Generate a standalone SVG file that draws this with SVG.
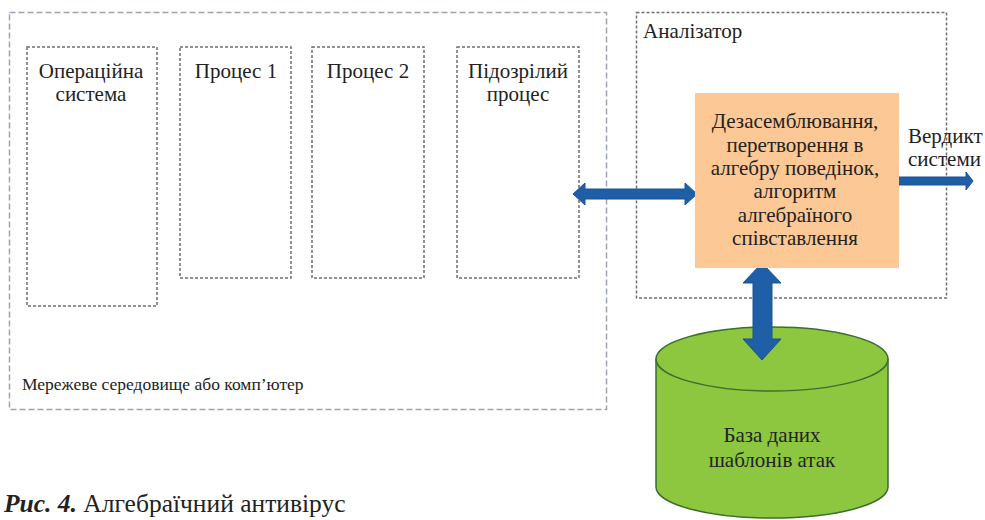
<svg xmlns="http://www.w3.org/2000/svg" width="985" height="520" viewBox="0 0 985 520">
<style>
  text { font-family: "Times New Roman", "Liberation Serif", Tinos, "DejaVu Serif", serif; fill: #222; }
  .t { font-size: 21px; }
  .c { text-anchor: middle; }
  .outer { fill: none; stroke: #9aa2b3; stroke-width: 1.5; stroke-dasharray: 6 3; }
  .dot { fill: none; stroke: #6f6f6f; stroke-width: 1.5; stroke-dasharray: 3 2; }
  .arrow { fill: #1f5fa8; stroke: #1a5296; stroke-width: 1; }
</style>
<rect width="985" height="520" fill="#ffffff"/>
<g id="network">
  <rect class="outer" x="9.5" y="12.5" width="597" height="397"/>
  <text x="22" y="390" style="font-size:17.5px">Мережеве середовище або комп’ютер</text>
</g>
<g id="os">
  <rect class="dot" x="27" y="47" width="130" height="259"/>
  <text class="t c" x="91" y="78">Операційна</text>
  <text class="t c" x="91" y="101">система</text>
</g>
<g id="process1">
  <rect class="dot" x="180" y="47" width="111" height="231"/>
  <text class="t c" x="236" y="78">Процес 1</text>
</g>
<g id="process2">
  <rect class="dot" x="312" y="47" width="112" height="231"/>
  <text class="t c" x="368" y="78">Процес 2</text>
</g>
<g id="suspicious">
  <rect class="dot" x="457" y="47" width="122" height="231"/>
  <text class="t c" x="518" y="78">Підозрілий</text>
  <text class="t c" x="518" y="101">процес</text>
</g>
<g id="analyzer">
  <rect class="dot" x="636.5" y="12.5" width="310" height="285.5"/>
  <text class="t" x="643" y="38">Аналізатор</text>
</g>
<g id="database">
  <path d="M656,359 L656,487 A116,31 0 0 0 888,487 L888,359" fill="#8dc63f" stroke="#3c6e2e" stroke-width="1.5"/>
  <ellipse cx="772" cy="359" rx="116" ry="32" fill="#8dc63f" stroke="#3c6e2e" stroke-width="1.5"/>
  <text class="t c" x="772" y="442">База даних</text>
  <text class="t c" x="772" y="467">шаблонів атак</text>
</g>
<g id="connectors">
  <polygon class="arrow" points="573,194 585,183 585,189 685,189 685,183 697,194 685,205 685,199 585,199 585,205"/>
  <polygon class="arrow" points="762,263 781,283 772,283 772,339 781,339 762,360 743,339 753,339 753,283 743,283"/>
  <polygon class="arrow" points="887,177 966,177 966,172 973,181 966,190 966,185 887,185"/>
</g>
<g id="disassembly">
  <rect x="695" y="93" width="204" height="175" fill="#fbc896"/>
  <text class="t c" x="795" y="128">Дезасемблювання,</text>
  <text class="t c" x="795" y="152">перетворення в</text>
  <text class="t c" x="795" y="175">алгебру поведінок,</text>
  <text class="t c" x="795" y="198">алгоритм</text>
  <text class="t c" x="795" y="222">алгебраїного</text>
  <text class="t c" x="795" y="245">співставлення</text>
</g>
<g id="verdict">
  <text class="t" x="908" y="143">Вердикт</text>
  <text class="t" x="908" y="166">системи</text>
</g>
<text x="4" y="512" style="font-size:25.5px"><tspan font-weight="bold" font-style="italic">Рис. 4.</tspan> Алгебраїчний антивірус</text>
</svg>
